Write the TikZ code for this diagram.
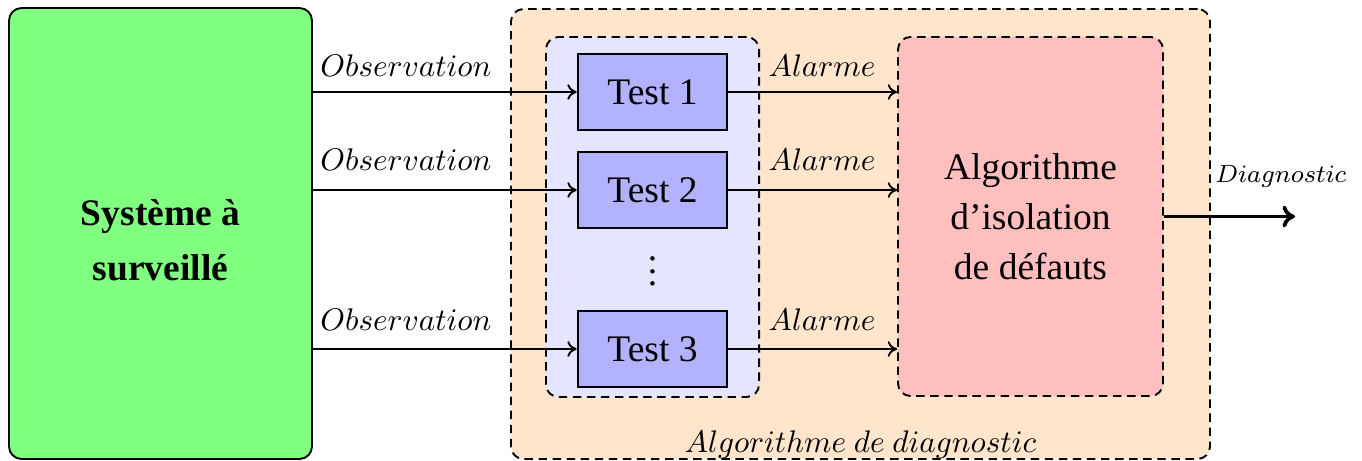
\documentclass[tikz,border=0pt]{standalone}
\usepackage{fontspec}
\setmainfont{Liberation Serif}
\usetikzlibrary{arrows.meta}
\begin{document}
\begin{tikzpicture}[x=0.32pt,y=-0.32pt,
  box/.style={draw=black,rectangle,inner sep=0pt,align=center},
  dashbox/.style={box,rounded corners=4pt,line width=0.6pt,dash pattern=on 2.7pt off 1.8pt},
  testbox/.style={box,fill=blue!30,line width=0.8pt,minimum width=47.7pt,minimum height=24.3pt,font=\large},
  flow/.style={-{To[length=3pt,width=5pt]},line width=0.6pt},
  lbl/.style={anchor=base,inner sep=0pt}]
  \useasboundingbox (0,0) rectangle (1362,461);

  % monitored system
  \node[box,fill=green!50,line width=0.6pt,rounded corners=4pt,
        minimum width=96.96pt,minimum height=144.3pt]
        (sys) at (160.5,233.5) {};
  \node[align=center,inner sep=0pt,font=\large\bfseries\fontsize{12}{17.6}\selectfont]
        (systxt) at (160.5,240) {Système à\\surveillé};

  % diagnosis algorithm frame
  \node[dashbox,fill=orange!20,minimum width=223.7pt,minimum height=144pt] (diag) at (860.5,234) {};
  \node[lbl] (diaglbl) at (860.5,452) {$Algorithme$ $de$ $diagnostic$};

  % bank of tests
  \node[dashbox,fill=blue!10,minimum width=68.2pt,minimum height=115.2pt] (bank) at (652.5,217) {};
  \node[testbox] (t1) at (652.5,92) {Test 1};
  \node[testbox] (t2) at (652.5,190) {Test 2};
  \node[testbox] (t3) at (652.5,349) {Test 3};
  \node[font=\large,inner sep=0pt] (dots) at (652.5,262) {$\vdots$};

  % fault isolation
  \node[dashbox,fill=red!25,minimum width=84.8pt,minimum height=114.9pt,
        font=\fontsize{12}{16}\selectfont]
        (iso) at (1030.5,216.5) {Algorithme\\d’isolation\\de défauts};

  % observations
  \draw[flow] (sys.east |- t1) -- (t1.west);
  \draw[flow] (sys.east |- t2) -- (t2.west);
  \draw[flow] (sys.east |- t3) -- (t3.west);
  \node[lbl] (o1) at (406,77) {$Observation$};
  \node[lbl] (o2) at (406,171) {$Observation$};
  \node[lbl] (o3) at (406,331) {$Observation$};

  % alarms
  \draw[flow] (t1.east) -- (iso.west |- t1);
  \draw[flow] (t2.east) -- (iso.west |- t2);
  \draw[flow] (t3.east) -- (iso.west |- t3);
  \node[lbl] (a1) at (822,77) {$Alarme$};
  \node[lbl] (a2) at (822,171) {$Alarme$};
  \node[lbl] (a3) at (822,331) {$Alarme$};

  % diagnosis output
  \coordinate (out) at (1295,216.5);
  \draw[-{To[length=4pt,width=7pt]},line width=1.2pt] (iso.east) -- (out);
  \node[lbl,font=\fontsize{8.4}{10}\selectfont] (dl) at (1281,183) {$Diagnostic$};
\end{tikzpicture}
\end{document}
